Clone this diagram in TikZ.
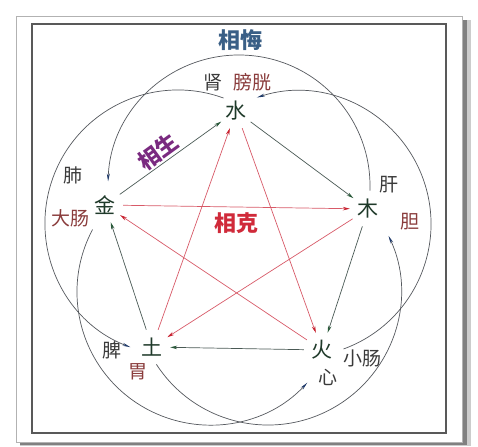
\documentclass[tikz,border=0pt]{standalone}
\usepackage{fontspec}
\usepackage{tikz}
\usetikzlibrary{arrows.meta}
\newfontfamily\cjk{Noto Sans CJK SC}
\definecolor{cXing}{HTML}{1F3A2A}
\definecolor{cZang}{HTML}{3A3A3A}
\definecolor{cFu}{HTML}{8A3C3C}
\definecolor{cShengLine}{HTML}{4A5A55}
\definecolor{cShengTip}{HTML}{2A5A3A}
\definecolor{cKeLine}{HTML}{D85A68}
\definecolor{cKeTip}{HTML}{C8202E}
\definecolor{cWuLine}{HTML}{55595E}
\definecolor{cWuTip}{HTML}{1F3A6A}
\definecolor{cTitle}{HTML}{3A5F86}
\definecolor{cSheng}{HTML}{7A2A80}
\definecolor{cKe}{HTML}{D02A3A}

\begin{document}
\begin{tikzpicture}[x=1pt, y=1pt,
    xing/.style={circle, minimum size=36pt, inner sep=0pt, text=cXing,
      font=\cjk\fontsize{21}{21}\selectfont},
    zang/.style={text=cZang, font=\cjk\fontsize{19}{19}\selectfont},
    fu/.style={text=cFu, font=\cjk\fontsize{19}{19}\selectfont},
    title/.style={font=\cjk\bfseries\fontsize{22}{22}\selectfont},
    sheng/.style={draw=cShengLine, line width=0.7pt,
      -{Stealth[length=7pt, width=3.5pt, color=cShengTip]}},
    ke/.style={draw=cKeLine, line width=0.7pt,
      -{Stealth[length=7pt, width=3.5pt, color=cKeTip]}},
    wu/.style={draw=cWuLine, line width=0.7pt,
      -{Stealth[length=8pt, width=3pt, color=cWuTip]}},
  ]
      \useasboundingbox (0,0) rectangle (478,-446);
      % frame with shadow
      \fill[black!20] (20,-20) rectangle (471,-446);
      \fill[black!50] (20,-20) rectangle (467,-444.5);
      \filldraw[fill=white, draw=black!30, line width=0.8pt] (16,-16) rectangle (462,-442);
      \draw[black!65, line width=1.6pt] (32,-24) rectangle (446,-433);

      % five elements
      \node[xing] (shui) at (236,-111) {水};
      \node[xing] (mu)   at (368,-209) {木};
      \node[xing] (huo)  at (322,-350) {火};
      \node[xing] (tu)   at (152,-347) {土};
      \node[xing] (jin)  at (105,-205) {金};

      % organs
      \node[zang] (shen)  at (213,-82)  {肾};
      \node[fu]   (pang)  at (252,-82)  {膀胱};
      \node[zang] (gan)   at (389,-185) {肝};
      \node[fu]   (dan)   at (410,-222) {胆};
      \node[zang] (xin)   at (328,-377) {心};
      \node[zang] (xiao)  at (362,-358) {小肠};
      \node[zang] (pi)    at (112,-350) {脾};
      \node[fu]   (wei)   at (138,-372) {胃};
      \node[zang] (fei)   at (73,-175)  {肺};
      \node[fu]   (da)    at (70,-218)  {大肠};

      % titles
      \node[title, text=cTitle] (xianghui) at (240,-40) {相悔};
      \node[title, text=cSheng, rotate=36, inner sep=1pt] (xiangsheng) at (158,-152) {相生};
      \node[title, text=cKe] (xiangke) at (236,-223) {相克};

      % reverse restraint arcs, centre ++(start:r) arc
      \coordinate (cA) at (178,-223);
      \coordinate (cB) at (239,-186);
      \coordinate (cC) at (298,-224);
      \coordinate (cD) at (268,-292);
      \coordinate (cE) at (210,-292);
      \draw[wu] (cA) ++(70:133pt)  arc (70:249:133pt);
      \draw[wu] (cB) ++(-2:131pt)  arc (-2:178:131pt);
      \draw[wu] (cC) ++(-70:133pt) arc (-70:108:133pt);
      \draw[wu] (cD) ++(213:133pt) arc (213:385:133pt);
      \draw[wu] (cE) ++(152:133pt) arc (152:317:133pt);

      % restraint star
      \draw[ke]
          (shui) edge (huo)
          (huo)  edge (jin)
          (jin)  edge (mu)
          (mu)   edge (tu)
          (tu)   edge (shui)
          ;
      % generation pentagon
      \draw[sheng]
          (jin)  edge (shui)
          (shui) edge (mu)
          (mu)   edge (huo)
          (huo)  edge (tu)
          (tu)   edge (jin)
          ;
    \end{tikzpicture}
\end{document}
